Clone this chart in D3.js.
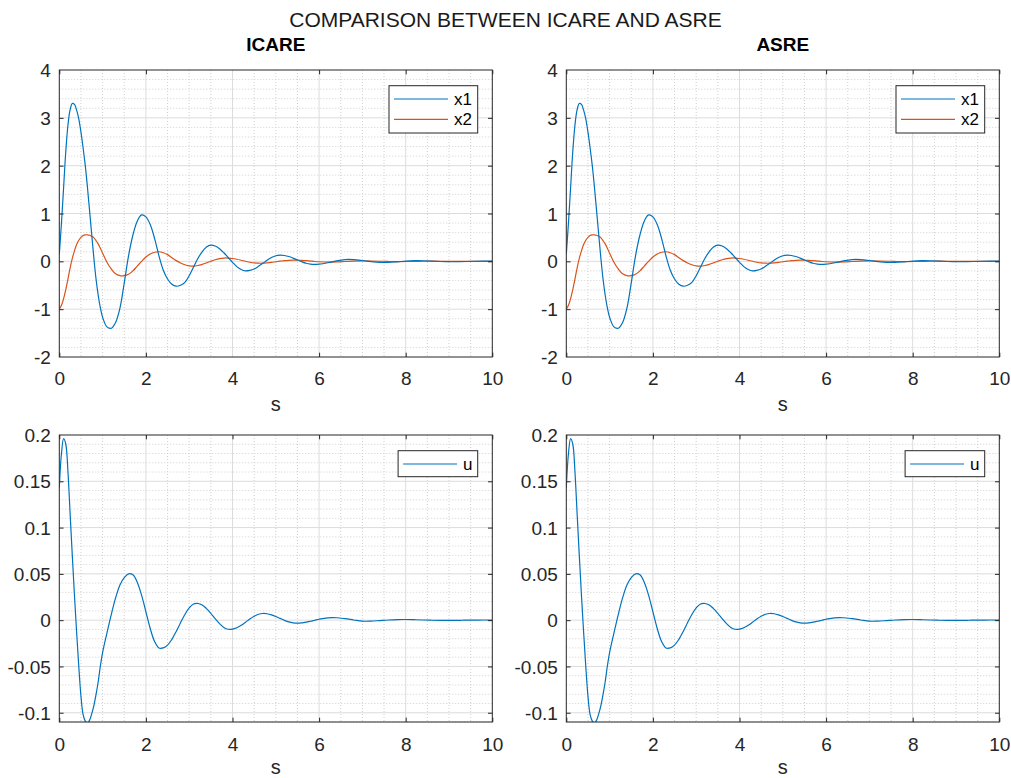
<!DOCTYPE html>
<html><head><meta charset="utf-8">
<script src="https://cdn.jsdelivr.net/npm/d3@7"></script>
<style>
body{margin:0;background:#fff;}
svg text{font-family:"Liberation Sans",Arial,Helvetica,sans-serif;}
</style>
</head><body>
<svg id="chart" width="1011" height="778"></svg>
<script>
// ---------- data ----------
const figureTitle = "COMPARISON BETWEEN ICARE AND ASRE";
const panelTitles = ["ICARE", "ASRE"];
const xLabel = "s";
const stateNames = ["x1", "x2"];
const controlNames = ["u"];
const xTicks = [0, 2, 4, 6, 8, 10];
const yTicksState = [-2, -1, 0, 1, 2, 3, 4];
const yTicksControl = [-0.1, -0.05, 0, 0.05, 0.1, 0.15, 0.2];

const t = [0,0.05,0.1,0.15,0.2,0.25,0.3,0.35,0.4,0.45,0.5,0.55,0.6,0.65,0.7,0.75,0.8,0.85,0.9,0.95,1.0,
  1.1,1.2,1.3,1.4,1.5,1.6,1.7,1.8,1.9,2.0,2.1,2.2,2.3,2.4,2.5,2.6,2.7,2.8,2.9,3.0,
  3.1,3.2,3.3,3.4,3.5,3.6,3.7,3.8,3.9,4.0,4.1,4.2,4.3,4.4,4.5,4.6,4.7,4.8,4.9,5.0,
  5.1,5.2,5.3,5.4,5.5,5.6,5.7,5.8,5.9,6.0,
  6.2,6.4,6.6,6.8,7.0,7.2,7.4,7.6,7.8,8.0,8.2,8.4,8.6,8.8,9.0,9.2,9.4,9.6,9.8,10.0];

const x1 = [0.15,0.80,1.55,2.30,2.85,3.17,3.30,3.28,3.16,2.98,2.70,2.37,2.00,1.55,1.05,0.55,0.05,-0.38,-0.72,-0.98,-1.17,
  -1.37,-1.40,-1.28,-0.98,-0.45,0.12,0.55,0.84,0.97,0.93,0.77,0.48,0.12,-0.18,-0.37,-0.48,-0.52,-0.50,-0.44,-0.30,
  -0.12,0.06,0.20,0.30,0.34,0.32,0.265,0.18,0.08,-0.02,-0.11,-0.17,-0.20,-0.19,-0.16,-0.105,-0.042,0.023,0.079,0.117,
  0.13,0.122,0.10,0.067,0.029,-0.009,-0.041,-0.06,-0.065,-0.059,
  -0.029,0.011,0.037,0.036,0.017,-0.007,-0.023,-0.022,-0.010,0.005,0.013,0.012,0.005,-0.003,-0.008,-0.007,-0.003,0.002,0.005,0.004];

const x2 = [-1.00,-0.92,-0.78,-0.59,-0.37,-0.14,0.06,0.22,0.35,0.44,0.50,0.54,0.553,0.555,0.545,0.525,0.49,0.43,0.36,0.27,0.17,
  -0.02,-0.16,-0.26,-0.30,-0.30,-0.27,-0.20,-0.10,0.00,0.09,0.155,0.19,0.20,0.18,0.14,0.075,0.015,-0.035,-0.072,-0.095,
  -0.10,-0.087,-0.063,-0.032,0.002,0.033,0.057,0.069,0.069,0.059,0.043,0.023,0.001,-0.019,-0.033,-0.039,-0.039,-0.032,-0.022,-0.009,
  0.003,0.015,0.022,0.025,0.023,0.019,0.013,0.005,-0.003,-0.009,
  -0.015,-0.0115,-0.003,0.0055,0.009,0.007,0.002,-0.003,-0.005,-0.004,-0.001,0.002,0.003,0.002,0.0,-0.001,-0.002,-0.001,0.0,0.001];

const u = [0.143,0.180,0.196,0.190,0.160,0.115,0.070,0.027,-0.013,-0.050,-0.082,-0.102,-0.109,-0.111,-0.108,-0.101,-0.092,-0.080,-0.066,-0.049,-0.035,
  -0.014,0.006,0.024,0.038,0.046,0.050,0.049,0.041,0.027,0.009,-0.009,-0.023,-0.030,-0.030,-0.027,-0.0207,-0.0122,-0.0028,0.0061,0.0132,
  0.0174,0.018,0.0164,0.0125,0.0073,0.0016,-0.0037,-0.0078,-0.0098,-0.0097,-0.0082,-0.0056,-0.0023,0.0012,0.0042,0.0064,0.0072,0.0069,0.0057,0.004,
  0.0019,-0.0002,-0.0019,-0.0029,-0.0032,-0.0029,-0.0022,-0.0012,-0.0001,0.001,
  0.0025,0.0026,0.0016,0.0002,-0.0011,-0.0010,-0.0004,0.0002,0.0006,0.0007,0.0005,0.0002,-0.0001,-0.0003,-0.0003,-0.0002,0.0,0.0001,0.0002,0.0001];

// ---------- layout / style ----------
const BLUE = "#0072BD", ORANGE = "#D95319", AX = "#262626";
const colLeft = [59.3, 566.3], rowTop = [70, 435];
const PW = 433, PH = 287, TICK = 4.3;
const TICKFONT = 19;

const svg = d3.select("#chart");
svg.append("text").attr("x", 505.5).attr("y", 27).attr("text-anchor", "middle")
  .attr("font-size", 21).attr("fill", "#1a1a1a").text(figureTitle);

const fmt = d => String(+d.toFixed(3));

function panel(col, row, cfg, idx) {
  const g = svg.append("g").attr("transform", `translate(${colLeft[col]},${rowTop[row]})`);
  const x = d3.scaleLinear().domain([0, 10]).range([0, PW]);
  const y = d3.scaleLinear().domain(cfg.yDomain).range([PH, 0]);

  g.append("rect").attr("width", PW).attr("height", PH).attr("fill", "#fff");

  // minor grid
  const xMinor = d3.range(0, 10.001, 0.5).filter(v => Math.abs(v / 2 - Math.round(v / 2)) > 1e-6);
  const yMinor = d3.range(cfg.yDomain[0], cfg.yDomain[1] + 1e-9, cfg.yMinor)
    .map(v => +v.toFixed(4))
    .filter(v => v >= cfg.yDomain[0] && v <= cfg.yDomain[1])
    .filter(v => !cfg.yTicks.some(tk => Math.abs(tk - v) < 1e-6));
  const grid = g.append("g");
  grid.selectAll(".vm").data(xMinor).join("line")
    .attr("x1", d => x(d)).attr("x2", d => x(d)).attr("y1", 0).attr("y2", PH)
    .attr("stroke", "#cfcfcf").attr("stroke-width", 1).attr("stroke-dasharray", "1,2");
  grid.selectAll(".hm").data(yMinor).join("line")
    .attr("y1", d => y(d)).attr("y2", d => y(d)).attr("x1", 0).attr("x2", PW)
    .attr("stroke", "#cfcfcf").attr("stroke-width", 1).attr("stroke-dasharray", "1,2");
  // major grid
  grid.selectAll(".vM").data(xTicks.slice(1, -1)).join("line")
    .attr("x1", d => x(d)).attr("x2", d => x(d)).attr("y1", 0).attr("y2", PH)
    .attr("stroke", "#dcdcdc").attr("stroke-width", 1);
  grid.selectAll(".hM").data(cfg.yTicks.filter(v => v > cfg.yDomain[0] && v < cfg.yDomain[1])).join("line")
    .attr("y1", d => y(d)).attr("y2", d => y(d)).attr("x1", 0).attr("x2", PW)
    .attr("stroke", "#dcdcdc").attr("stroke-width", 1);

  // lines
  const clipId = "clip" + idx;
  g.append("clipPath").attr("id", clipId).append("rect").attr("width", PW).attr("height", PH);
  const line = d3.line().x((d, i) => x(t[i])).y(d => y(d)).curve(d3.curveCatmullRom.alpha(0.5));
  const lg = g.append("g").attr("clip-path", `url(#${clipId})`);
  cfg.series.slice().reverse().forEach(s => {
    lg.append("path").datum(s.values).attr("d", line)
      .attr("fill", "none").attr("stroke", s.color).attr("stroke-width", 1.2);
  });

  // axes
  const ax = d3.axisBottom(x).tickValues(xTicks).tickFormat(fmt).tickSizeInner(-TICK).tickSizeOuter(0);
  const axG = g.append("g").attr("transform", `translate(0,${PH})`).call(ax);
  axG.selectAll("text").attr("y", cfg.xTickBase).attr("dy", 0).attr("font-size", TICKFONT).attr("fill", AX);
  const ay = d3.axisLeft(y).tickValues(cfg.yTicks).tickFormat(fmt).tickSizeInner(-TICK).tickSizeOuter(0);
  const ayG = g.append("g").call(ay);
  ayG.selectAll("text").attr("x", -8.5).attr("dy", "0.35em").attr("font-size", TICKFONT).attr("fill", AX);
  g.append("g").call(d3.axisTop(x).tickValues(xTicks).tickFormat("").tickSizeInner(-TICK).tickSizeOuter(0));
  g.append("g").attr("transform", `translate(${PW},0)`)
    .call(d3.axisRight(y).tickValues(cfg.yTicks).tickFormat("").tickSizeInner(-TICK).tickSizeOuter(0));
  g.selectAll(".domain").remove();
  g.selectAll(".tick line").attr("stroke", AX);
  g.selectAll(".tick").filter(d => d === cfg.yDomain[0] || d === cfg.yDomain[1]).select("line").remove();
  g.append("rect").attr("width", PW).attr("height", PH).attr("fill", "none").attr("stroke", AX).attr("stroke-width", 1);

  // x label
  g.append("text").attr("x", PW / 2).attr("y", PH + cfg.xLabelBase).attr("text-anchor", "middle")
    .attr("font-size", 20).attr("fill", AX).text(xLabel);

  // panel title
  if (cfg.title) {
    g.append("text").attr("x", PW / 2).attr("y", -19).attr("text-anchor", "middle")
      .attr("font-size", 19).attr("font-weight", "bold").attr("fill", "#000").text(cfg.title);
  }

  // legend
  const L = cfg.legend;
  const lgd = g.append("g").attr("transform", `translate(${PW - 14.6 - L.w},15.7)`);
  lgd.append("rect").attr("width", L.w).attr("height", L.h).attr("fill", "#fff").attr("stroke", AX).attr("stroke-width", 1);
  cfg.series.forEach((s, i) => {
    const yy = L.rowY[i];
    lgd.append("line").attr("x1", 5).attr("x2", 59).attr("y1", yy).attr("y2", yy)
      .attr("stroke", s.color).attr("stroke-width", 1.2);
    lgd.append("text").attr("x", 65).attr("y", yy + 6).attr("font-size", 17).attr("fill", "#000").text(s.name);
  });
}

const stateSeries = [
  { name: stateNames[0], values: x1, color: BLUE },
  { name: stateNames[1], values: x2, color: ORANGE }
];
const controlSeries = [{ name: controlNames[0], values: u, color: BLUE }];

[0, 1].forEach(col => {
  panel(col, 0, {
    title: panelTitles[col], yDomain: [-2, 4], yTicks: yTicksState, yMinor: 0.2,
    series: stateSeries, xTickBase: 27.5, xLabelBase: 54,
    legend: { w: 88.7, h: 47.3, rowY: [13.3, 33.6] }
  }, col);
  panel(col, 1, {
    title: null, yDomain: [-0.11, 0.2], yTicks: yTicksControl, yMinor: 0.01,
    series: controlSeries, xTickBase: 28.5, xLabelBase: 51.5,
    legend: { w: 79.6, h: 26, rowY: [13.3] }
  }, col + 2);
});
</script>
</body></html>
